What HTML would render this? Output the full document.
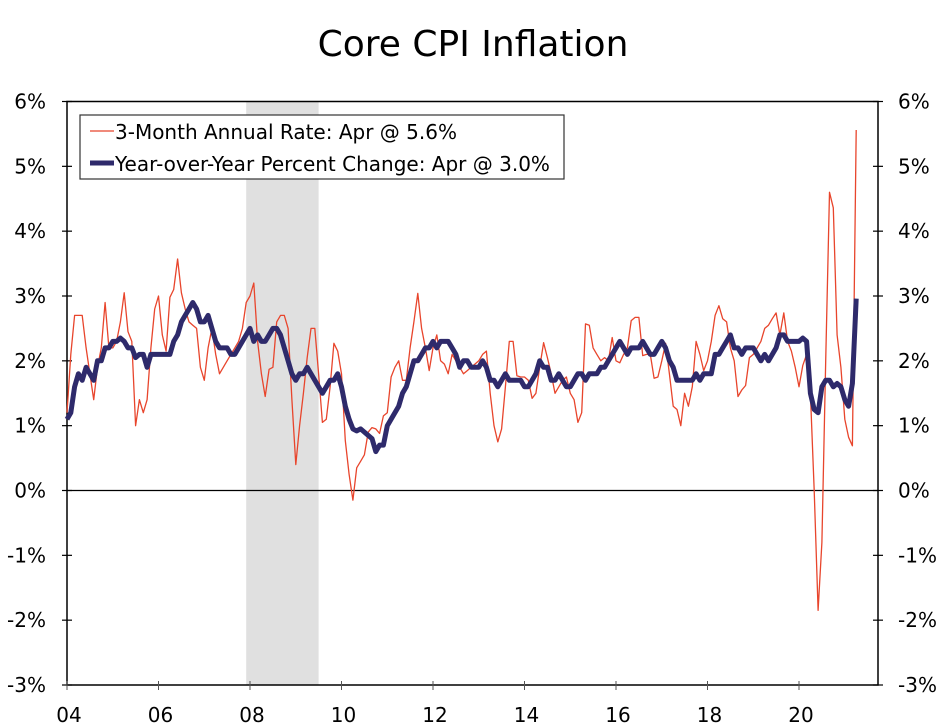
<!DOCTYPE html>
<html><head><meta charset="utf-8"><style>
body{margin:0;background:#fff;}
svg{display:block;font-family:"DejaVu Sans","Liberation Sans",sans-serif;}
</style></head><body>
<svg id="chart" width="947" height="727" viewBox="0 0 947 727">
<text x="473" y="56" text-anchor="middle" font-size="36" fill="#000">Core CPI Inflation</text>
<g id="plot"></g>
</svg>
<script>
const yTicks=[6,5,4,3,2,1,0,-1,-2,-3];
const yTickLabels=["6%","5%","4%","3%","2%","1%","0%","-1%","-2%","-3%"];
const xTickYears=[2004,2006,2008,2010,2012,2014,2016,2018,2020];
const xTickLabels=["04","06","08","10","12","14","16","18","20"];
const recession=[2007.917,2009.5];
const threeMonth=[
1.2,2.1,2.7,2.7,2.7,2.2,1.8,1.4,1.9,2.2,2.9,2.2,
2.2,2.3,2.6,3.05,2.45,2.3,1.0,1.4,1.2,1.4,2.2,2.8,
3.0,2.4,2.15,2.98,3.1,3.57,3.05,2.8,2.6,2.55,2.5,1.9,
1.7,2.2,2.5,2.1,1.8,1.9,2.0,2.1,2.2,2.3,2.5,2.9,
3.0,3.2,2.3,1.8,1.45,1.87,1.9,2.6,2.7,2.7,2.5,1.4,
0.4,1.0,1.5,2.05,2.5,2.5,1.8,1.05,1.1,1.6,2.27,2.15,
1.8,0.77,0.25,-0.15,0.35,0.45,0.55,0.9,0.97,0.95,0.88,1.15,
1.2,1.75,1.9,2.0,1.7,1.7,2.2,2.6,3.04,2.5,2.2,1.85,
2.2,2.4,2.0,1.95,1.8,2.1,2.0,1.9,1.8,1.85,1.9,1.95,
2.0,2.1,2.15,1.5,1.0,0.75,0.95,1.6,2.3,2.3,1.77,1.75,
1.75,1.7,1.42,1.5,1.9,2.28,2.05,1.8,1.5,1.6,1.7,1.75,
1.5,1.4,1.05,1.2,2.57,2.55,2.2,2.1,2.0,2.05,2.0,2.36,
2.0,1.97,2.1,2.2,2.62,2.67,2.67,2.08,2.1,2.1,1.73,1.75,
2.0,2.27,1.8,1.3,1.25,1.0,1.5,1.3,1.6,2.3,2.1,1.85,
2.0,2.3,2.7,2.85,2.65,2.6,2.2,2.0,1.45,1.55,1.62,2.05,
2.1,2.2,2.3,2.5,2.55,2.65,2.74,2.4,2.74,2.3,2.15,1.9,
1.6,1.93,2.1,1.5,0.0,-1.85,-0.8,2.0,4.6,4.36,2.4,1.9,
1.1,0.82,0.69,5.56];
const yoy=[
1.1,1.2,1.6,1.8,1.7,1.9,1.8,1.7,2.0,2.0,2.2,2.2,
2.3,2.3,2.35,2.3,2.2,2.2,2.05,2.1,2.1,1.9,2.1,2.1,
2.1,2.1,2.1,2.1,2.3,2.4,2.6,2.7,2.8,2.9,2.8,2.6,
2.6,2.7,2.5,2.3,2.2,2.2,2.2,2.1,2.1,2.2,2.3,2.4,
2.5,2.3,2.4,2.3,2.3,2.4,2.5,2.5,2.4,2.2,2.0,1.8,
1.7,1.8,1.8,1.9,1.8,1.7,1.6,1.5,1.6,1.7,1.7,1.8,
1.6,1.3,1.1,0.95,0.92,0.95,0.9,0.85,0.8,0.6,0.7,0.7,
1.0,1.1,1.2,1.3,1.5,1.6,1.8,2.0,2.0,2.1,2.2,2.2,
2.3,2.2,2.3,2.3,2.3,2.2,2.1,1.9,2.0,2.0,1.9,1.9,
1.9,2.0,1.9,1.7,1.7,1.6,1.7,1.8,1.7,1.7,1.7,1.7,
1.6,1.6,1.7,1.8,2.0,1.9,1.9,1.7,1.7,1.8,1.7,1.6,
1.6,1.7,1.8,1.8,1.7,1.8,1.8,1.8,1.9,1.9,2.0,2.1,
2.2,2.3,2.2,2.1,2.2,2.2,2.2,2.3,2.2,2.1,2.1,2.2,
2.3,2.2,2.0,1.9,1.7,1.7,1.7,1.7,1.7,1.8,1.7,1.8,
1.8,1.8,2.1,2.1,2.2,2.3,2.4,2.2,2.2,2.1,2.2,2.2,
2.2,2.1,2.0,2.1,2.0,2.1,2.2,2.4,2.4,2.3,2.3,2.3,
2.3,2.35,2.3,1.5,1.25,1.2,1.6,1.7,1.7,1.6,1.65,1.6,
1.4,1.3,1.65,2.96];

const L=67,R=878,T=101.5,B=685;
const yMax=6,yMin=-3,t0=2004,pxPerYear=45.75;
function sy(v){return T+(yMax-v)/(yMax-yMin)*(B-T);}
function sx(t){return L+(t-t0)*pxPerYear;}
function mx(i){return sx(t0+i/12);}
const NS="http://www.w3.org/2000/svg";
const g=document.getElementById('plot');
function mk(tag,attrs,parent){const e=document.createElementNS(NS,tag);for(const k in attrs)e.setAttribute(k,attrs[k]);(parent||g).appendChild(e);return e;}

const rec=mk('rect',{x:sx(recession[0]),y:T,width:sx(recession[1])-sx(recession[0]),height:B-T,fill:'#e0e0e0'});



const zl=mk('line',{x1:L,x2:R,y1:sy(0),y2:sy(0),stroke:'#000','stroke-width':1.3});



const frame=mk('rect',{x:L,y:T,width:R-L,height:B-T,fill:'none',stroke:'#000','stroke-width':1.5});



yTicks.forEach((v,i)=>{
  const y=sy(v);
  mk('line',{x1:L-5,x2:L+5,y1:y,y2:y,stroke:'#000','stroke-width':1.2});
  mk('line',{x1:R-5,x2:R+5,y1:y,y2:y,stroke:'#000','stroke-width':1.2});
  const tl=mk('text',{x:46,y:y+7,'text-anchor':'end','font-size':20,fill:'#000'});
  tl.textContent=yTickLabels[i];
  
  
  const tr=mk('text',{x:898,y:y+7,'text-anchor':'start','font-size':20,fill:'#000'});
  tr.textContent=yTickLabels[i];
  
  
});
xTickYears.forEach((t,i)=>{
  const x=sx(t);
  mk('line',{x1:x,x2:x,y1:B-4,y2:B+5,stroke:'#555','stroke-width':1});
  const xl=mk('text',{x:x+2,y:722,'text-anchor':'middle','font-size':20,fill:'#000'});
  xl.textContent=xTickLabels[i];
  
  
});

function path(arr){return arr.map((v,i)=>(i?'L':'M')+mx(i).toFixed(1)+' '+sy(v).toFixed(1)).join(' ');}
const s1=mk('path',{d:path(threeMonth),fill:'none',stroke:'#e8452c','stroke-width':1.3,'stroke-linejoin':'round'});


const s2=mk('path',{d:path(yoy),fill:'none',stroke:'#2e2a6b','stroke-width':5,'stroke-linejoin':'round'});



const lg=mk('g',{});


mk('rect',{x:80,y:115,width:484,height:64,fill:'#fff',stroke:'#333','stroke-width':1.2},lg);
mk('line',{x1:90,x2:114,y1:131,y2:131,stroke:'#e8452c','stroke-width':1.3},lg);
mk('line',{x1:90,x2:114,y1:163,y2:163,stroke:'#2e2a6b','stroke-width':5},lg);
const l1=mk('text',{x:115,y:139,'font-size':20,fill:'#000'},lg);
l1.textContent='3-Month Annual Rate: Apr @ 5.6%';


const l2=mk('text',{x:115,y:171,'font-size':20,fill:'#000'},lg);
l2.textContent='Year-over-Year Percent Change: Apr @ 3.0%';


</script>
</body></html>
